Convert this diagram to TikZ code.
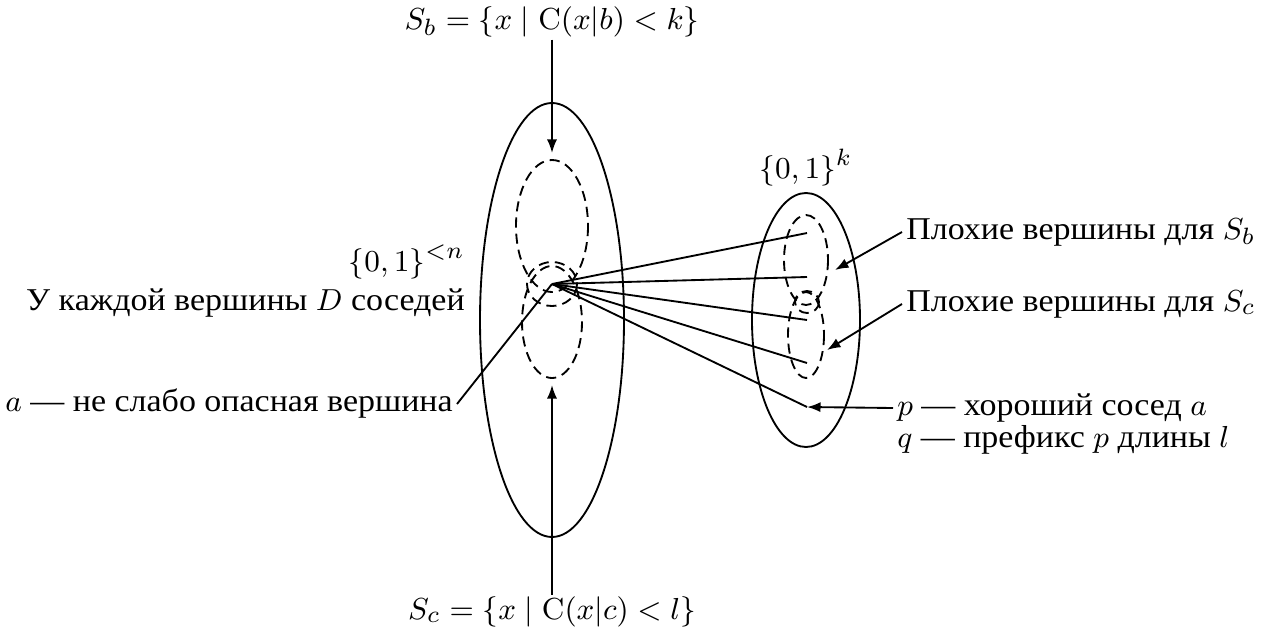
\documentclass[tikz,border=0pt]{standalone}
\usepackage[no-math]{fontspec}
\setmainfont[FakeStretch=1.07]{Liberation Serif}
\usetikzlibrary{arrows.meta}
\begin{document}
\begin{tikzpicture}[x=0.0104cm,y=-0.0104cm,line width=0.55pt,
  lbl/.style={inner sep=1pt,font=\fontsize{9.4}{11}\selectfont},
  arr/.style={-{Latex[length=4pt,width=3pt]}},
  dsh/.style={dash pattern=on 3pt off 1.8pt}]
\useasboundingbox (0,0) rectangle (1272,639);
% left set
\draw (552,320) ellipse [x radius=72, y radius=217];
\draw[dsh] (552,226) ellipse [x radius=36, y radius=66];
\draw[dsh] (552,284) ellipse [x radius=25, y radius=22];
\draw[dsh] (552,322) ellipse [x radius=30, y radius=56];
% right set
\draw (806,320) ellipse [x radius=54, y radius=127];
\draw[dsh] (806,260) ellipse [x radius=22, y radius=45];
\draw[dsh] (807,302) ellipse [x radius=12, y radius=11];
\draw[dsh] (806,335) ellipse [x radius=18, y radius=43];
% points
\coordinate (a) at (552,284);
\coordinate (e1) at (807,233);
\coordinate (e2) at (807,277);
\coordinate (e3) at (807,320);
\coordinate (e4) at (807,363);
\coordinate (p) at (807,407);
\coordinate (tb) at (552,153);
\coordinate (tc) at (552,385);
\coordinate (bd) at (835,270);
\coordinate (cd) at (827,350);
% labels
\node[lbl] (sb) at (552,22) {$S_b=\{x\mid \mathrm{C}(x|b)<k\}$};
\node[lbl] (sc) at (552,612) {$S_c=\{x\mid \mathrm{C}(x|c)<l\}$};
\node[lbl,anchor=east] (n) at (469,262) {$\{0,1\}^{<n}$};
\node[lbl,anchor=east] (deg) at (469,303) {У каждой вершины $D$ соседей};
\node[lbl,anchor=east] (al) at (457,404) {$a$ — не слабо опасная вершина};
\node[lbl] (k) at (806,168) {$\{0,1\}^k$};
\node[lbl,anchor=west] (bb) at (902,232) {Плохие вершины для $S_b$};
\node[lbl,anchor=west] (bc) at (902,304) {Плохие вершины для $S_c$};
\node[lbl,anchor=west] (pl) at (893,408) {$p$ — хороший сосед $a$};
\node[lbl,anchor=west] (ql) at (893,440) {$q$ — префикс $p$ длины $l$};
% connectors
\draw[arr] (sb.south) ++(0,-2) -- (tb);
\draw[arr] (sc.north) ++(0,2) -- (tc);
\foreach \e in {e1,e2,e3,e4,p} \draw (a) -- (\e);
\draw (a) -- (al.east);
\draw[arr] (bb.west) -- (bd);
\draw[arr] (bc.west) -- (cd);
\draw[arr] (pl.west) -- (p);
\end{tikzpicture}
\end{document}
